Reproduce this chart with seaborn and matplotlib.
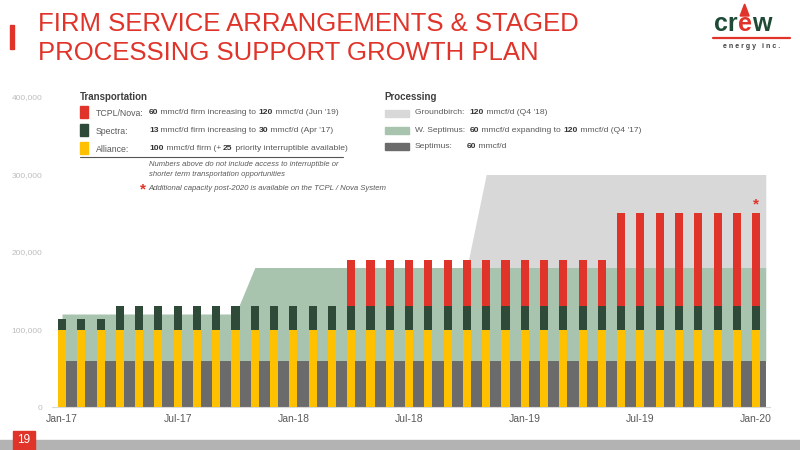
import numpy as np
import pandas as pd
import matplotlib
matplotlib.use("Agg")
import matplotlib.pyplot as plt
import seaborn as sns
from matplotlib.patches import Rectangle, Polygon
from matplotlib.lines import Line2D

# ---------------- data (mcf/d) ----------------
months = ["Jan-17", "Feb-17", "Mar-17", "Apr-17", "May-17", "Jun-17", "Jul-17", "Aug-17", "Sep-17",
          "Oct-17", "Nov-17", "Dec-17", "Jan-18", "Feb-18", "Mar-18", "Apr-18", "May-18", "Jun-18",
          "Jul-18", "Aug-18", "Sep-18", "Oct-18", "Nov-18", "Dec-18", "Jan-19", "Feb-19", "Mar-19",
          "Apr-19", "May-19", "Jun-19", "Jul-19", "Aug-19", "Sep-19", "Oct-19", "Nov-19", "Dec-19",
          "Jan-20"]
alliance = [100000] * 37
spectra = [13000, 13000, 13000, 30000, 30000, 30000, 30000, 30000, 30000, 30000, 30000, 30000,
           30000, 30000, 30000, 30000, 30000, 30000, 30000, 30000, 30000, 30000, 30000, 30000,
           30000, 30000, 30000, 30000, 30000, 30000, 30000, 30000, 30000, 30000, 30000, 30000, 30000]
tcpl = [0, 0, 0, 0, 0, 0, 0, 0, 0, 0, 0, 0, 0, 0, 0,
        60000, 60000, 60000, 60000, 60000, 60000, 60000, 60000, 60000, 60000, 60000, 60000, 60000, 60000,
        120000, 120000, 120000, 120000, 120000, 120000, 120000, 120000]
septimus = [60000] * 37
w_septimus = [60000, 60000, 60000, 60000, 60000, 60000, 60000, 60000, 60000, 60000,
              120000, 120000, 120000, 120000, 120000, 120000, 120000, 120000, 120000, 120000,
              120000, 120000, 120000, 120000, 120000, 120000, 120000, 120000, 120000, 120000,
              120000, 120000, 120000, 120000, 120000, 120000, 120000]
groundbirch = [0, 0, 0, 0, 0, 0, 0, 0, 0, 0, 0, 0, 0, 0, 0, 0, 0, 0, 0, 0, 0, 0,
               120000, 120000, 120000, 120000, 120000, 120000, 120000, 120000, 120000, 120000,
               120000, 120000, 120000, 120000, 120000]
xtick_labels = ["Jan-17", "Jul-17", "Jan-18", "Jul-18", "Jan-19", "Jul-19", "Jan-20"]
ytick_values = [0, 100000, 200000, 300000, 400000]

# ---------------- colours ----------------
RED = "#E0342A"
DKGREEN = "#304A3A"
YELLOW = "#FFC000"
DKGRAY = "#6B6B6B"
LTGREEN = "#A8C3AE"
LTGRAY = "#D8D8D8"
TXT = "#595959"

sns.set_theme(style="white")
plt.rcParams["font.family"] = ["Liberation Sans", "DejaVu Sans"]

W, H = 800, 450
fig = plt.figure(figsize=(8, 4.5), dpi=100)
fig.patch.set_facecolor("white")
ax = fig.add_axes([52 / W, 1 - 407 / H, (770 - 52) / W, (407 - 97) / H])

df = pd.DataFrame({"month": months, "alliance": alliance, "spectra": spectra, "tcpl": tcpl,
                   "septimus": septimus, "w_septimus": w_septimus, "groundbirch": groundbirch})
df["t_green"] = df["alliance"] + df["spectra"]
df["t_red"] = np.where(df["tcpl"] > 0, df["t_green"] + df["tcpl"], 0)
df["p1"] = df["septimus"]
df["p2"] = df["p1"] + df["w_septimus"]
df["p3"] = df["p2"] + df["groundbirch"]

# stacked processing areas (Excel-style, extended half a category to the right)
xa = list(range(len(df))) + [len(df) - 0.5]
def ext(s):
    v = list(s)
    return v + [v[-1]]
ax.fill_between(xa, ext(df["p2"]), ext(df["p3"]), color=LTGRAY, lw=0, zorder=1)
ax.fill_between(xa, ext(df["p1"]), ext(df["p2"]), color=LTGREEN, lw=0, zorder=1)
ax.fill_between(xa, 0, ext(df["p1"]), color=DKGRAY, lw=0, zorder=1)

# stacked transportation bars
bw = 0.42
sns.barplot(data=df, x="month", y="t_red", order=months, color=RED, width=bw,
            saturation=1, ax=ax, zorder=3, linewidth=0)
sns.barplot(data=df, x="month", y="t_green", order=months, color=DKGREEN, width=bw,
            saturation=1, ax=ax, zorder=3, linewidth=0)
sns.barplot(data=df, x="month", y="alliance", order=months, color=YELLOW, width=bw,
            saturation=1, ax=ax, zorder=3, linewidth=0)

ax.set_xlim(-0.52, 36.72)
ax.set_ylim(0, 400000)
ax.set_xlabel("")
ax.set_ylabel("")
ax.set_xticks([months.index(m) for m in xtick_labels])
ax.set_xticklabels(xtick_labels, fontsize=7.5, color=TXT)
ax.set_yticks(ytick_values)
ax.set_yticklabels([f"{v:,}" for v in ytick_values], fontsize=6, color="#BDBDBD")
ax.tick_params(axis="both", length=0, pad=7)
ax.tick_params(axis="x", pad=5)
for s in ["top", "right", "left"]:
    ax.spines[s].set_visible(False)
ax.spines["bottom"].set_color("#D9D9D9")
ax.spines["bottom"].set_linewidth(0.8)
ax.grid(False)

# asterisk above last bar
ax.text(len(df) - 1, df["t_red"].iloc[-1] + 2000, "*", color=RED, ha="center", va="bottom",
        fontsize=11, fontweight="bold", zorder=4)

# ---------------- text helpers ----------------
renderer = fig.canvas.get_renderer()

def fx(x):
    return x / W

def fy(y):
    return 1 - y / H

def runs(x, y, parts, size, style="normal"):
    cx = x
    for s, w, c in parts:
        t = fig.text(fx(cx), fy(y), s, fontsize=size, fontweight=w, color=c, style=style,
                     ha="left", va="center")
        cx += t.get_window_extent(renderer).width
    return cx

# ---------------- title ----------------
fig.patches.append(Rectangle((fx(10), fy(49)), 4 / W, 24 / H, transform=fig.transFigure,
                             color=RED, zorder=5))
t1 = fig.text(fx(38), fy(24), "FIRM SERVICE ARRANGEMENTS & STAGED", fontsize=18, color=RED,
              ha="left", va="center")
w1 = t1.get_window_extent(renderer).width
size = 18 * 540 / w1
t1.set_fontsize(size)
fig.text(fx(38), fy(53), "PROCESSING SUPPORT GROWTH PLAN", fontsize=size, color=RED,
         ha="left", va="center")

# ---------------- logo ----------------
lx = runs(714, 24, [("cr", "bold", "#1E4A36")], 18)
ex = runs(lx, 24, [("e", "bold", RED)], 18)
runs(ex, 24, [("w", "bold", "#1E4A36")], 18)
fig.patches.append(Polygon([(fx(lx + 2.5), fy(16)), (fx(ex - 2.5), fy(16)), (fx((lx + ex) / 2), fy(4))],
                           closed=True, transform=fig.transFigure, color=RED, zorder=0))
fig.lines.append(Line2D([fx(713), fx(790)], [fy(38), fy(38)], transform=fig.transFigure,
                        color=RED, lw=1.6))
fig.text(fx(752), fy(46), "e n e r g y   i n c .", fontsize=5, fontweight="bold", color="#404040",
         ha="center", va="center")

# ---------------- transportation legend ----------------
fig.text(fx(80), fy(97), "Transportation", fontsize=7, fontweight="bold", color="#404040",
         ha="left", va="center")
sq = [(RED, 112), (DKGREEN, 130), (YELLOW, 148)]
for c, yc in sq:
    fig.patches.append(Rectangle((fx(80), fy(yc + 6)), 8 / W, 12 / H, transform=fig.transFigure,
                                 color=c, zorder=5))
runs(96, 113, [("TCPL/Nova:", "normal", TXT)], 6.3)
runs(149, 113, [("60", "bold", "#333333"), (" mmcf/d firm increasing to ", "normal", TXT),
                ("120", "bold", "#333333"), (" mmcf/d (Jun '19)", "normal", TXT)], 6.1)
runs(96, 131, [("Spectra:", "normal", TXT)], 6.3)
runs(149, 131, [("13", "bold", "#333333"), (" mmcf/d firm increasing to ", "normal", TXT),
                ("30", "bold", "#333333"), (" mmcf/d (Apr '17)", "normal", TXT)], 6.1)
runs(96, 149, [("Alliance:", "normal", TXT)], 6.3)
runs(149, 149, [("100", "bold", "#333333"), (" mmcf/d firm (+ ", "normal", TXT),
                ("25", "bold", "#333333"), (" priority interruptible available)", "normal", TXT)], 6.1)
fig.lines.append(Line2D([fx(80), fx(343)], [fy(157), fy(157)], transform=fig.transFigure,
                        color="#555555", lw=0.8))
fig.text(fx(149), fy(165), "Numbers above do not include access to interruptible or", fontsize=5.5,
         style="italic", color=TXT, ha="left", va="center")
fig.text(fx(149), fy(174), "shorter term transportation opportunities", fontsize=5.5,
         style="italic", color=TXT, ha="left", va="center")
fig.text(fx(140), fy(189), "*", fontsize=11, fontweight="bold", color=RED, ha="left", va="center")
fig.text(fx(148), fy(188), "Additional capacity post-2020 is available on the TCPL / Nova System",
         fontsize=5.6, style="italic", color=TXT, ha="left", va="center")

# ---------------- processing legend ----------------
fig.text(fx(384), fy(97), "Processing", fontsize=7, fontweight="bold", color="#404040",
         ha="left", va="center")
for c, yc in [(LTGRAY, 113), (LTGREEN, 130), (DKGRAY, 146)]:
    fig.patches.append(Rectangle((fx(385), fy(yc + 3.5)), 24 / W, 7 / H, transform=fig.transFigure,
                                 color=c, zorder=5))
runs(415, 113, [("Groundbirch:  ", "normal", TXT), ("120", "bold", "#333333"),
                (" mmcf/d (Q4 '18)", "normal", TXT)], 6.1)
runs(415, 130, [("W. Septimus:  ", "normal", TXT), ("60", "bold", "#333333"),
                (" mmcf/d expanding to ", "normal", TXT), ("120", "bold", "#333333"),
                (" mmcf/d (Q4 '17)", "normal", TXT)], 6.1)
runs(415, 146, [("Septimus:", "normal", TXT)], 6.1)
runs(467, 146, [("60", "bold", "#333333"), (" mmcf/d", "normal", TXT)], 6.1)

# ---------------- footer ----------------
fig.patches.append(Rectangle((0, 0), 1, 10 / H, transform=fig.transFigure, color="#B3B3B3", zorder=4))
fig.patches.append(Rectangle((fx(13), 0), 22 / W, 19 / H, transform=fig.transFigure, color=RED, zorder=5))
fig.text(fx(24), fy(440), "19", fontsize=8.5, color="white", ha="center", va="center", zorder=6)

fig.savefig("out.png", dpi=100, facecolor="white")
